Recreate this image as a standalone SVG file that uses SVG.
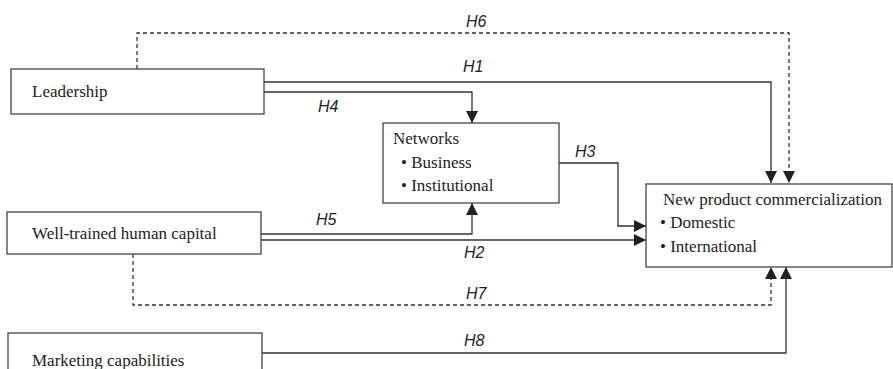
<svg xmlns="http://www.w3.org/2000/svg" width="893" height="369" viewBox="0 0 893 369">
<style>
.box{fill:#fff;stroke:#444;stroke-width:1.3}
.t{font-family:"Liberation Serif","Times New Roman",serif;font-size:17px;fill:#222}
.h{font-family:"Liberation Sans",Arial,sans-serif;font-size:16px;font-style:italic;fill:#222}
.c{fill:none;stroke:#333;stroke-width:1.3}
.d{stroke-dasharray:4,3}
</style>
<defs>
<marker id="ah" viewBox="0 0 12 12" refX="12" refY="6" markerWidth="12" markerHeight="12" markerUnits="userSpaceOnUse" orient="auto">
<path d="M0,0 L12,6 L0,12 z" fill="#222"/>
</marker>
</defs>
<rect width="893" height="369" fill="#fff"/>
<g id="connectors">
<path class="c d" d="M137,69 V33 H789 V183" marker-end="url(#ah)"/>
<path class="c" d="M264,82 H771 V183" marker-end="url(#ah)"/>
<path class="c" d="M264,92 H472 V123" marker-end="url(#ah)"/>
<path class="c" d="M559,163 H618 V226 H646" marker-end="url(#ah)"/>
<path class="c" d="M261,234 H472 V203" marker-end="url(#ah)"/>
<path class="c" d="M261,240 H646" marker-end="url(#ah)"/>
<path class="c d" d="M133,254 V305 H771 V267" marker-end="url(#ah)"/>
<path class="c" d="M262,353 H786 V267" marker-end="url(#ah)"/>
<text class="h" x="466" y="27">H6</text>
<text class="h" x="463" y="72">H1</text>
<text class="h" x="318" y="112">H4</text>
<text class="h" x="575" y="157">H3</text>
<text class="h" x="316" y="225">H5</text>
<text class="h" x="464" y="258">H2</text>
<text class="h" x="466" y="299">H7</text>
<text class="h" x="464" y="346">H8</text>
</g>
<g id="leadership">
<rect class="box" x="11" y="69" width="253" height="45"/>
<text class="t" x="32" y="97">Leadership</text>
</g>
<g id="networks">
<rect class="box" x="383" y="123" width="176" height="80"/>
<text class="t" x="393" y="144">Networks</text>
<text class="t" x="401" y="168">• Business</text>
<text class="t" x="401" y="191">• Institutional</text>
</g>
<g id="npc">
<rect class="box" x="646" y="184" width="246" height="83"/>
<text class="t" x="663" y="205">New product commercialization</text>
<text class="t" x="660" y="228">• Domestic</text>
<text class="t" x="660" y="252">• International</text>
</g>
<g id="human-capital">
<rect class="box" x="7" y="212" width="254" height="42"/>
<text class="t" x="32" y="239">Well-trained human capital</text>
</g>
<g id="marketing">
<rect class="box" x="8" y="333" width="254" height="50"/>
<text class="t" x="32" y="366">Marketing capabilities</text>
</g>
</svg>
